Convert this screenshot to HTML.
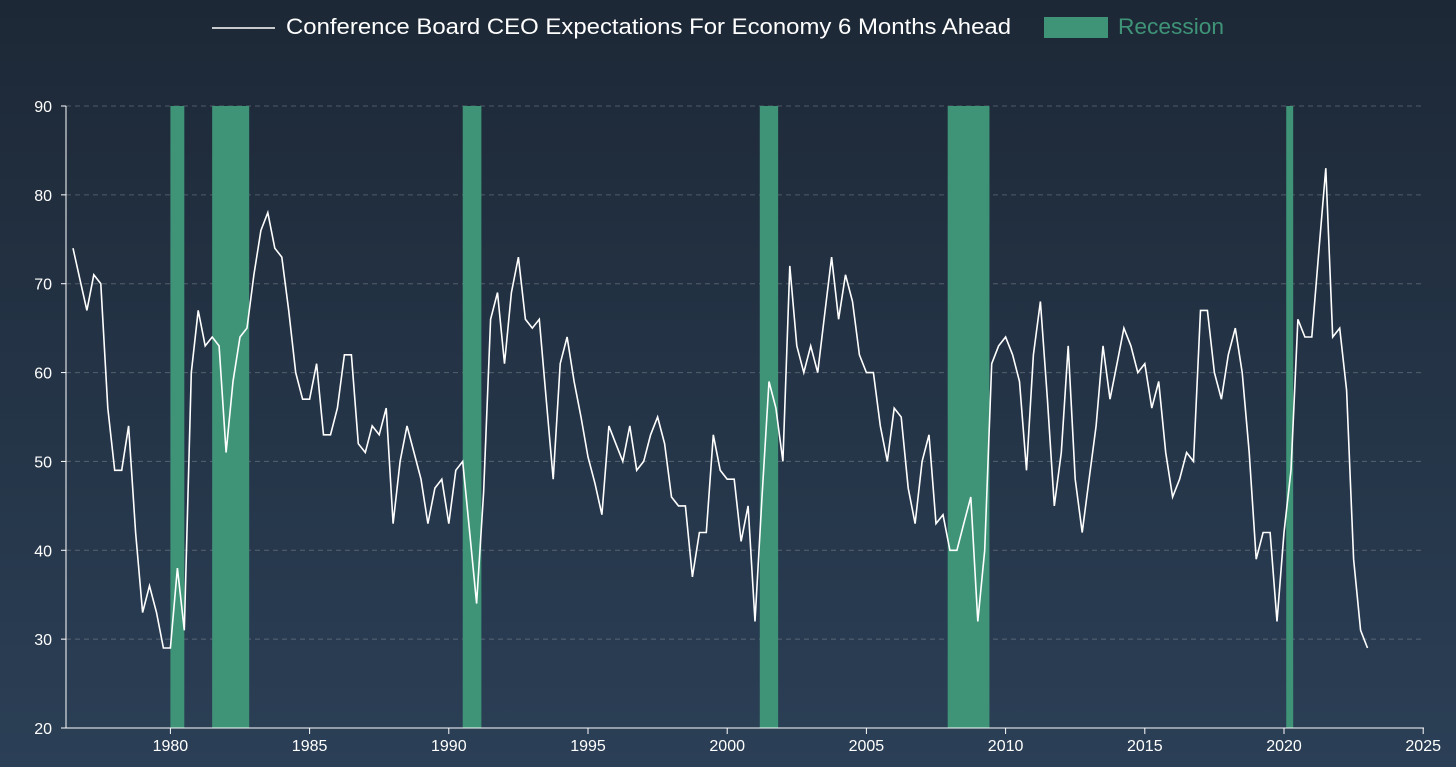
<!DOCTYPE html>
<html><head><meta charset="utf-8">
<style>
html,body{margin:0;padding:0;}
body{width:1456px;height:767px;overflow:hidden;background:linear-gradient(#1d2836,#2b3f56);font-family:"Liberation Sans",sans-serif;}
svg{display:block;}
</style></head>
<body>
<svg id="chart" width="1456" height="767" xmlns="http://www.w3.org/2000/svg">
  <g>
    <line x1="212" y1="28" x2="275" y2="28" stroke="#ffffff" stroke-width="1.5"/>
    <text x="286" y="34" fill="#ffffff" font-size="22" textLength="725" lengthAdjust="spacingAndGlyphs">Conference Board CEO Expectations For Economy 6 Months Ahead</text>
    <rect x="1044" y="17" width="64" height="21" fill="#3f9478"/>
    <text x="1118" y="34" fill="#3f9478" font-size="22" textLength="106" lengthAdjust="spacingAndGlyphs">Recession</text>
  </g>
  <g id="grid"></g>
  <g id="bands"></g>
  <g id="axes"></g>
  <g id="series"></g>
</svg>
<script>
const startYear = 1976.5;
const values = [74,70.5,67,71,70,56,49,49,54,42,33,36,33,29,29,38,31,60,67,63,64,63,51,59,64,65,71,76,78,74,73,67,60,57,57,61,53,53,56,62,62,52,51,54,53,56,43,50,54,51,48,43,47,48,43,49,50,
42,34,46.5,66,69,61,69,73,66,65,66,57,48,61,64,59,55,50.5,47.5,44,54,52,50,54,49,50,53,55,52,46,45,45,37,42,42,53,49,48,48,41,45,32,46,59,56,50,72,63,60,63,60,66.5,73,66,71,68,62,
60,60,54,50,56,55,47,43,50,53,43,44,40,40,43,46,32,40,61,63,64,62,59,49,62,68,57,45,51,63,48,42,48,54,63,57,61,65,63,60,61,56,
59,51,46,48,51,50,67,67,60,57,62,65,60,51,39,42,42,32,42,49,66,64,64,73.6,83,64,65,58,39,31,29];
const recessionStarts = [1980.0,1981.5,1990.5,2001.17,2007.92,2020.08];
const recessionEnds = [1980.5,1982.83,1991.17,2001.83,2009.42,2020.33];
const yTicks = [20,30,40,50,60,70,80,90];
const xTicks = [1980,1985,1990,1995,2000,2005,2010,2015,2020,2025];

const NS = "http://www.w3.org/2000/svg";
const X0 = 66, X1 = 1424, Y0 = 728, Y1 = 106;
function xs(yr){ return 170.4 + (yr - 1980) * 27.84; }
function ys(v){ return Y0 - (v - 20) / 70 * (Y0 - Y1); }
function mk(tag, attrs, parent){ const e = document.createElementNS(NS, tag); for (const k in attrs) e.setAttribute(k, attrs[k]); parent.appendChild(e); return e; }

const bands = document.getElementById('bands');
recessionStarts.forEach((s, i) => {
  const r = mk('rect', {x: xs(s), y: Y1, width: xs(recessionEnds[i]) - xs(s), height: Y0 - Y1, fill: '#3f9478'}, bands);
  
  
});

const grid = document.getElementById('grid');
const axes = document.getElementById('axes');
yTicks.forEach(t => {
  if (t > 20) {
    const g = mk('line', {x1: X0, x2: X1, y1: ys(t), y2: ys(t), stroke: 'rgba(255,255,255,0.22)', 'stroke-dasharray': '5,4', 'stroke-width': 1}, grid);
    
    
  }
  mk('line', {x1: X0 - 5, x2: X0, y1: ys(t), y2: ys(t), stroke: '#ffffff', 'stroke-width': 1}, axes);
  const lb = mk('text', {x: 52, y: ys(t) + 6, fill: '#ffffff', 'font-size': 16, 'text-anchor': 'end'}, axes);
  lb.textContent = t;
  
  
});
const ya = mk('line', {x1: X0, x2: X0, y1: Y1, y2: Y0, stroke: '#ffffff', 'stroke-width': 1}, axes);


const xa = mk('line', {x1: X0, x2: X1, y1: Y0, y2: Y0, stroke: '#ffffff', 'stroke-width': 1}, axes);


xTicks.forEach(t => {
  mk('line', {x1: xs(t), x2: xs(t), y1: Y0, y2: Y0 + 6, stroke: '#ffffff', 'stroke-width': 1}, axes);
  const lb = mk('text', {x: xs(t), y: Y0 + 23, fill: '#ffffff', 'font-size': 16, 'text-anchor': 'middle'}, axes);
  lb.textContent = t;
  
  
});

const pts = values.map((v, i) => xs(startYear + i * 0.25).toFixed(1) + ',' + ys(v).toFixed(1)).join(' ');
const line = mk('polyline', {points: pts, fill: 'none', stroke: '#ffffff', 'stroke-width': 1.6, 'stroke-linejoin': 'miter'}, document.getElementById('series'));


</script>
</body></html>
